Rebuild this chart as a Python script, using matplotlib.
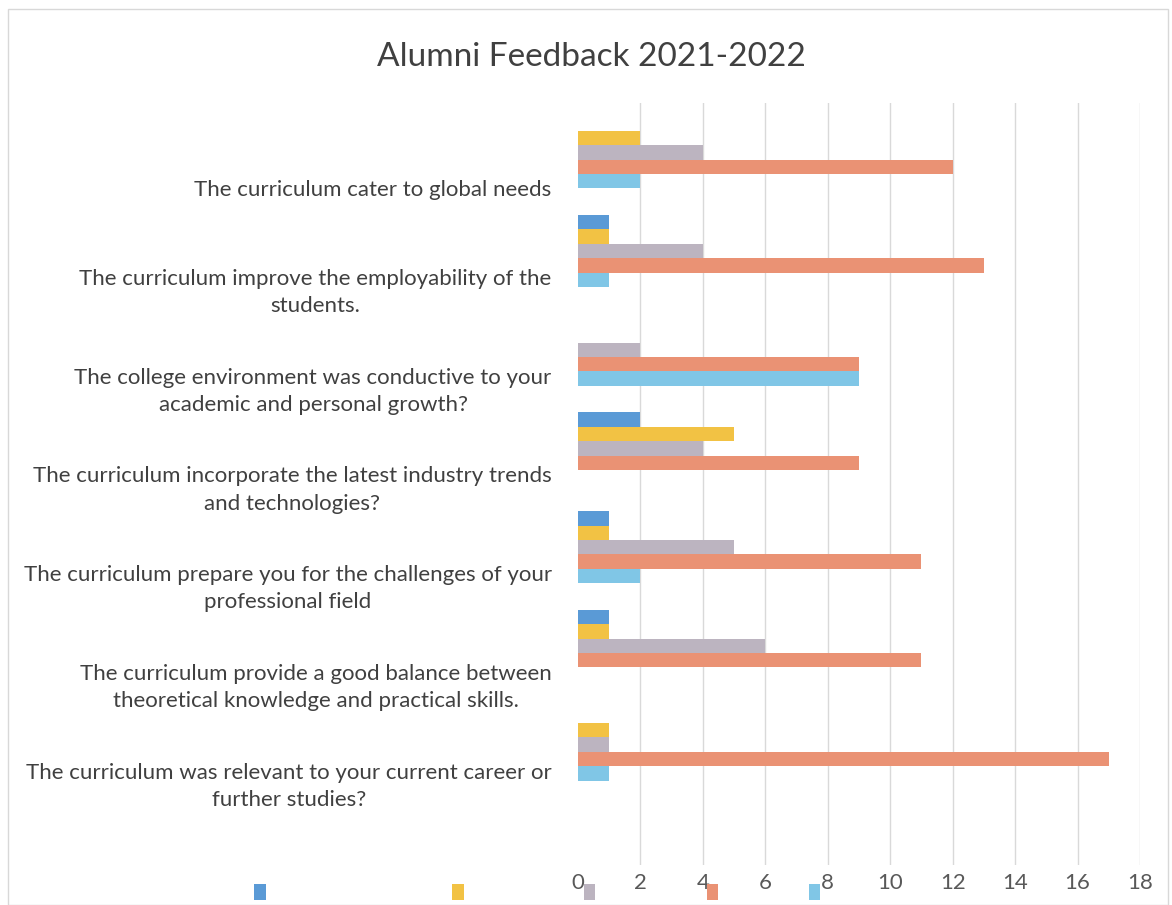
import numpy as np
import matplotlib
matplotlib.use("Agg")
import matplotlib.pyplot as plt
from matplotlib.patches import Patch, Rectangle
from matplotlib.transforms import ScaledTranslation

plt.rcParams['font.family'] = ['Lato', 'DejaVu Sans']

# data
questions = [
    "The curriculum cater to global needs",
    "The curriculum improve the employability of the\nstudents.",
    "The college environment was conductive to your\nacademic and personal growth?",
    "The curriculum incorporate the latest industry trends\nand technologies?",
    "The curriculum prepare you for the challenges of your\nprofessional field",
    "The curriculum provide a good balance between\ntheoretical knowledge and practical skills.",
    "The curriculum was relevant to your current career or\nfurther studies?",
]
series_blue = [0, 1, 0, 2, 1, 1, 0]
series_yellow = [2, 1, 0, 5, 1, 1, 1]
series_gray = [4, 4, 2, 4, 5, 6, 1]
series_orange = [12, 13, 9, 9, 11, 11, 17]
series_lightblue = [2, 1, 9, 0, 2, 0, 1]
x_ticks = [0, 2, 4, 6, 8, 10, 12, 14, 16, 18]

all_series = [series_blue, series_yellow, series_gray, series_orange, series_lightblue]
colors = ['#5a9ad6', '#f2c244', '#bcb4c0', '#ea9274', '#80c6e6']

fig = plt.figure(figsize=(11.72, 9.05), dpi=100)
ax = fig.add_axes([0.4932, 0.0442, 0.4795, 0.842])

# bars
y = np.arange(len(questions))
h = 0.146
for k, (vals, c) in enumerate(zip(all_series, colors)):
    ax.barh(y + (k - 2) * h, vals, height=h, color=c, zorder=3)

ax.set_xlim(0, 18)
ax.set_ylim(7.22, -0.5)
ax.set_xticks(x_ticks)
ax.set_yticks(y)
ax.set_yticklabels(questions, fontsize=16, color='#404040',
                   multialignment='center', linespacing=1.45)
ax.tick_params(axis='x', labelsize=16, labelcolor='#595959', length=0, pad=6)
ax.tick_params(axis='y', length=0, pad=19)
ax.grid(axis='x', color='#d9d9d9', linewidth=1, zorder=0)
ax.get_xgridlines()[0].set_visible(False)
for s in ax.spines.values():
    s.set_visible(False)

# labels sit a bit lower than the bar groups in the scan
off = ScaledTranslation(0, -0.36, fig.dpi_scale_trans)
for lab in ax.get_yticklabels():
    lab.set_transform(lab.get_transform() + off)

fig.text(0.505, 0.937, "Alumni Feedback 2021-2022", ha='center', va='center',
         fontsize=24, color='#404040')

# legend without names, one marker per series
legend_x = [0.222, 0.391, 0.503, 0.608, 0.695]
for c, lx in zip(colors, legend_x):
    fig.legend([Patch(facecolor=c)], [''], loc='center', bbox_to_anchor=(lx, 0.013),
               frameon=False, fontsize=14, handlelength=0.6, handleheight=0.9,
               handletextpad=0, borderpad=0)

fig.patches.append(Rectangle((0.007, 0.0), 0.99, 0.99, transform=fig.transFigure,
                             fill=False, edgecolor='#d8d8d8', linewidth=1))

fig.savefig('out.png', dpi=100)
